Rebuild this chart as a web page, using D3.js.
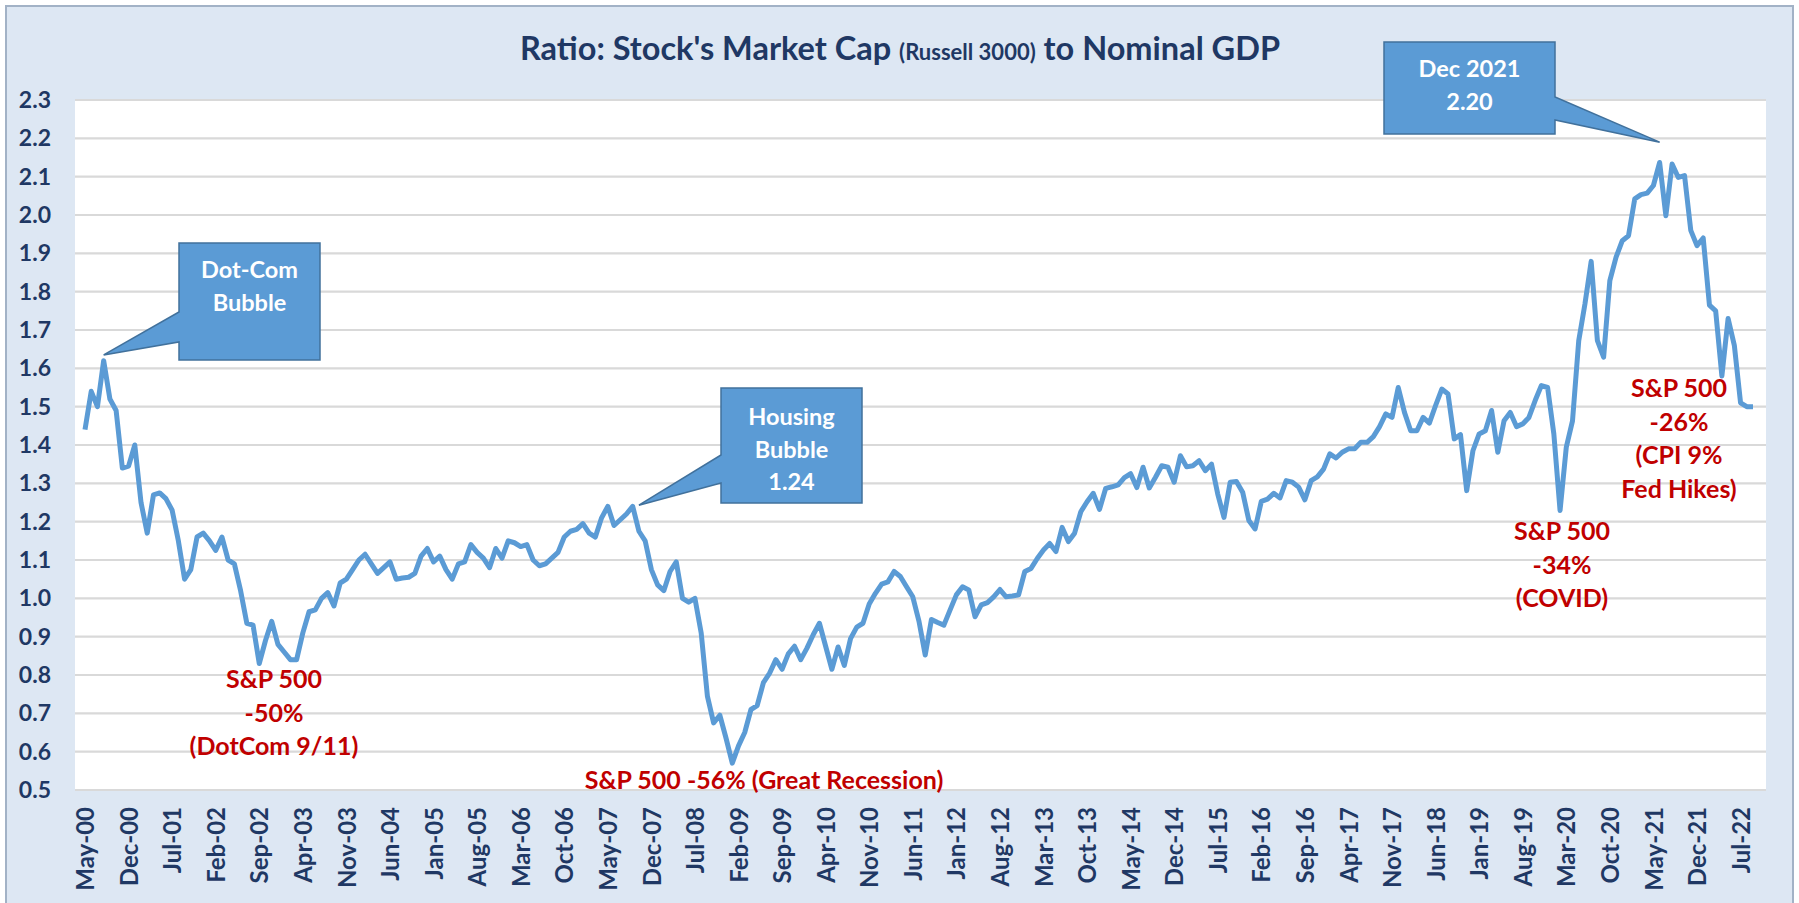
<!DOCTYPE html>
<html>
<head>
<meta charset="utf-8">
<script src="https://cdnjs.cloudflare.com/ajax/libs/d3/7.8.5/d3.min.js"></script>
<style>
  body { margin: 0; background: #ffffff; }
  svg text { font-family: Lato, "Open Sans", sans-serif; font-weight: bold; }
</style>
</head>
<body>
<script>

//-----------------------------------------data-------------------------------------------

// monthly, May-00 .. Sep-22
var months = d3.timeMonth.range(new Date(2000, 4, 1), new Date(2022, 9, 1));
var fmtMonth = d3.timeFormat("%b-%y");
var categories = months.map(function(d) { return fmtMonth(d); });

var ratio = [
  1.44, 1.54, 1.50, 1.62, 1.52, 1.49, 1.34, 1.345, 1.40, 1.25, 1.17, 1.27,
  1.275, 1.26, 1.23, 1.15, 1.05, 1.075, 1.16, 1.17, 1.15, 1.125, 1.16, 1.10,
  1.09, 1.02, 0.935, 0.93, 0.83, 0.89, 0.94, 0.88, 0.86, 0.84, 0.84, 0.91,
  0.965, 0.97, 1.00, 1.015, 0.98, 1.04, 1.05, 1.075, 1.10, 1.115, 1.09, 1.065,
  1.08, 1.095, 1.05, 1.053, 1.055, 1.065, 1.11, 1.13, 1.095, 1.11, 1.075, 1.05,
  1.09, 1.095, 1.14, 1.12, 1.105, 1.08, 1.13, 1.105, 1.15, 1.145, 1.135, 1.14,
  1.10, 1.085, 1.09, 1.105, 1.12, 1.16, 1.175, 1.18, 1.195, 1.17, 1.16, 1.21,
  1.24, 1.19, 1.205, 1.22, 1.24, 1.175, 1.15, 1.075, 1.035, 1.02, 1.07, 1.095,
  1.00, 0.99, 1.00, 0.91, 0.745, 0.675, 0.695, 0.635, 0.57, 0.615, 0.65, 0.71,
  0.72, 0.78, 0.805, 0.84, 0.815, 0.855, 0.875, 0.84, 0.87, 0.905, 0.935, 0.875,
  0.815, 0.873, 0.825, 0.895, 0.925, 0.935, 0.985, 1.013, 1.037, 1.043, 1.07, 1.057,
  1.03, 1.004, 0.94, 0.852, 0.945, 0.937, 0.93, 0.97, 1.009, 1.03, 1.022, 0.952,
  0.983, 0.989, 1.004, 1.023, 1.004, 1.006, 1.009, 1.07, 1.078, 1.104, 1.126, 1.143,
  1.122, 1.185, 1.148, 1.17, 1.226, 1.252, 1.274, 1.232, 1.287, 1.291, 1.296, 1.315,
  1.325, 1.289, 1.342, 1.288, 1.316, 1.346, 1.342, 1.303, 1.372, 1.343, 1.346, 1.359,
  1.333, 1.35, 1.272, 1.211, 1.303, 1.305, 1.277, 1.203, 1.181, 1.253, 1.259, 1.274,
  1.262, 1.307, 1.303, 1.29, 1.257, 1.307, 1.317, 1.337, 1.377, 1.366, 1.381, 1.39,
  1.39, 1.407, 1.407, 1.422, 1.448, 1.481, 1.472, 1.55, 1.485, 1.437, 1.437, 1.472,
  1.457, 1.503, 1.546, 1.533, 1.416, 1.427, 1.281, 1.385, 1.429, 1.437, 1.49, 1.381,
  1.463, 1.485, 1.448, 1.455, 1.472, 1.516, 1.555, 1.55, 1.429, 1.229, 1.394, 1.463,
  1.672, 1.768, 1.879, 1.672, 1.629, 1.829, 1.89, 1.933, 1.946, 2.042, 2.053, 2.057,
  2.077, 2.137, 1.998, 2.133, 2.098, 2.103, 1.96, 1.92, 1.94, 1.765, 1.75, 1.58,
  1.73, 1.66, 1.51, 1.50, 1.50
];

var tickLabels = ["May-00","Dec-00","Jul-01","Feb-02","Sep-02","Apr-03","Nov-03","Jun-04",
  "Jan-05","Aug-05","Mar-06","Oct-06","May-07","Dec-07","Jul-08","Feb-09","Sep-09","Apr-10",
  "Nov-10","Jun-11","Jan-12","Aug-12","Mar-13","Oct-13","May-14","Dec-14","Jul-15","Feb-16",
  "Sep-16","Apr-17","Nov-17","Jun-18","Jan-19","Aug-19","Mar-20","Oct-20","May-21","Dec-21","Jul-22"];

var yTicks = [0.5, 0.6, 0.7, 0.8, 0.9, 1.0, 1.1, 1.2, 1.3, 1.4, 1.5, 1.6, 1.7, 1.8, 1.9, 2.0, 2.1, 2.2, 2.3];

// blue callouts : box in px, tip on a data month
var callouts = [
  { lines: ["Dot-Com", "Bubble"], box: [179, 243, 320, 360], side: "left", base: [312, 342], tip: 3, tipValue: 1.635, first: 278, step: 33 },
  { lines: ["Housing", "Bubble", "1.24"], box: [721, 388, 862, 503], side: "left", base: [455, 483], tip: 89, tipValue: 1.243, first: 425, step: 32.5 },
  { lines: ["Dec 2021", "2.20"], box: [1384, 42, 1555, 134], side: "right", base: [97, 120], tip: 253, tipValue: 2.19, first: 77, step: 33 }
];

// red notes
var notes = [
  { lines: ["S&P 500", "-50%", "(DotCom 9/11)"], x: 274, y: 688 },
  { lines: ["S&P 500 -56% (Great Recession)"], x: 764, y: 789 },
  { lines: ["S&P 500", "-34%", "(COVID)"], x: 1562, y: 540 },
  { lines: ["S&P 500", "-26%", "(CPI 9%", "Fed Hikes)"], x: 1679, y: 397 }
];

//-----------------------------------------SVG-------------------------------------------

var svg = d3.select("body")
          .append("svg")
          .attr("width", 1799)
          .attr("height", 903);

var navy = "#1f3864";
var plot = { left: 75, right: 1766, top: 100, bottom: 790 };

var x = d3.scalePoint()
    .domain(categories)
    .range([85, 1753]);

var y = d3.scaleLinear()
    .domain([0.5, 2.3])
    .range([plot.bottom, plot.top]);

//-----------------------------------------background-------------------------------------

svg.append("rect")
    .attr("x", 6).attr("y", 6)
    .attr("width", 1787).attr("height", 902)
    .attr("fill", "#dde7f3")
    .attr("stroke", "#a2b2c6")
    .attr("stroke-width", 2);

svg.append("rect")
    .attr("x", plot.left).attr("y", plot.top)
    .attr("width", plot.right - plot.left).attr("height", plot.bottom - plot.top)
    .attr("fill", "#ffffff");

svg.append("g")
    .selectAll("line")
    .data(yTicks)
    .enter().append("line")
      .attr("x1", plot.left).attr("x2", plot.right)
      .attr("y1", function(d) { return y(d); })
      .attr("y2", function(d) { return y(d); })
      .attr("stroke", "#d9d9d9")
      .attr("stroke-width", 2.2);

//-----------------------------------------title-------------------------------------------

var title = svg.append("text")
    .attr("x", 900).attr("y", 60)
    .attr("text-anchor", "middle")
    .attr("fill", navy)
    .style("font-size", "32.5px");
title.append("tspan").text("Ratio: Stock's Market Cap ");
title.append("tspan").style("font-size", "22px").text("(Russell 3000)");
title.append("tspan").text(" to Nominal GDP");

//-----------------------------------------axes--------------------------------------------

var yAxis = svg.append("g")
    .attr("transform", "translate(" + plot.left + ",0)")
    .call(d3.axisLeft(y).tickValues(yTicks).tickFormat(d3.format(".1f")).tickSize(0).tickPadding(24));

yAxis.select(".domain").remove();
yAxis.selectAll("text")
    .attr("fill", navy)
    .style("font-size", "23px")
    .style("font-family", "Lato, sans-serif");

var xAxis = svg.append("g")
    .attr("transform", "translate(0," + plot.bottom + ")")
    .call(d3.axisBottom(x).tickValues(tickLabels).tickSize(0));

xAxis.select(".domain").remove();
xAxis.selectAll("text")
    .attr("transform", "rotate(-90)")
    .attr("x", -17)
    .attr("y", 0)
    .attr("dy", "0.36em")
    .attr("text-anchor", "end")
    .attr("fill", navy)
    .style("font-size", "24px")
    .style("font-family", "Lato, sans-serif");

//-----------------------------------------line--------------------------------------------

var line = d3.line()
    .x(function(d, i) { return x(categories[i]); })
    .y(function(d) { return y(d); });

svg.append("path")
    .datum(ratio)
    .attr("d", line)
    .attr("fill", "none")
    .attr("stroke", "#5b9bd5")
    .attr("stroke-width", 5)
    .attr("stroke-linejoin", "round");

//-----------------------------------------callouts----------------------------------------

callouts.forEach(function(c) {
  var b = c.box;
  var tx = x(categories[c.tip]), ty = y(c.tipValue);
  var p;
  if (c.side == "left") {
    p = [[b[0], b[1]], [b[2], b[1]], [b[2], b[3]], [b[0], b[3]], [b[0], c.base[1]], [tx, ty], [b[0], c.base[0]]];
  } else {
    p = [[b[0], b[1]], [b[2], b[1]], [b[2], c.base[0]], [tx, ty], [b[2], c.base[1]], [b[2], b[3]], [b[0], b[3]]];
  }
  svg.append("path")
      .attr("d", "M" + p.join("L") + "Z")
      .attr("fill", "#5b9bd5")
      .attr("stroke", "#41719c")
      .attr("stroke-width", 1.5);

  svg.append("g")
    .selectAll("text")
    .data(c.lines)
    .enter().append("text")
      .attr("x", (b[0] + b[2]) / 2)
      .attr("y", function(d, i) { return c.first + i * c.step; })
      .attr("text-anchor", "middle")
      .attr("fill", "#ffffff")
      .style("font-size", "23.5px")
      .text(function(d) { return d; });
});

//-----------------------------------------notes-------------------------------------------

notes.forEach(function(n) {
  svg.append("g")
    .selectAll("text")
    .data(n.lines)
    .enter().append("text")
      .attr("x", n.x)
      .attr("y", function(d, i) { return n.y + i * 33.5; })
      .attr("text-anchor", "middle")
      .attr("fill", "#c00000")
      .style("font-size", "25px")
      .text(function(d) { return d; });
});

</script>
</body>
</html>
